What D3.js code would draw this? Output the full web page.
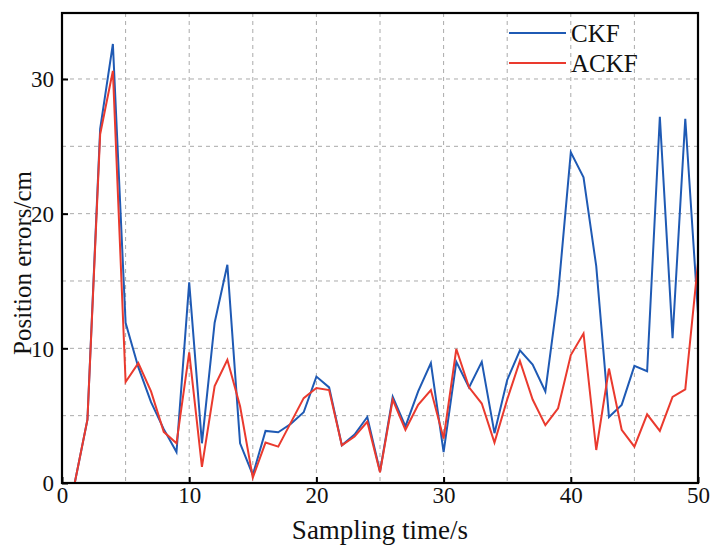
<!DOCTYPE html>
<html>
<head>
<meta charset="utf-8">
<script src="https://cdn.jsdelivr.net/npm/d3@7"></script>
<style>
  body { margin: 0; background: #fff; }
</style>
</head>
<body>
<div class="chart"></div>
<script>
// sampling instants 1..50
var samples = d3.range(1, 51);

// position errors (cm)
var ckf = [0, 4.7, 26.3, 32.6, 11.9, 8.6, 6.0, 4.0, 2.3, 14.9,
           2.95, 11.9, 16.2, 2.95, 0.6, 3.87, 3.77, 4.4, 5.25, 7.9,
           7.1, 2.8, 3.6, 4.9, 0.85, 6.4, 4.2, 6.8, 8.9, 2.3,
           9.0, 7.1, 9.0, 3.7, 7.65, 9.85, 8.8, 6.8, 14.0, 24.55,
           22.7, 16.1, 4.9, 5.8, 8.7, 8.3, 27.2, 10.75, 27.05, 12.6];

var ackf = [0, 4.7, 25.9, 30.6, 7.5, 8.9, 6.8, 3.8, 2.95, 9.7,
            1.2, 7.2, 9.15, 5.7, 0.4, 3.0, 2.7, 4.5, 6.3, 7.05,
            6.9, 2.8, 3.45, 4.55, 0.8, 6.2, 3.95, 5.8, 6.9, 3.3,
            9.95, 7.1, 5.9, 3.0, 6.2, 9.07, 6.2, 4.3, 5.55, 9.5,
            11.1, 2.45, 8.5, 3.95, 2.7, 5.1, 3.87, 6.4, 6.95, 16.35];

var xTicks = [0, 10, 20, 30, 40, 50];
var yTicks = [0, 10, 20, 30];
var xGrid = [5, 10, 15, 20, 25, 30, 35, 40, 45];
var yGrid = [5, 10, 15, 20, 25, 30];

var seriesNames = ["CKF", "ACKF"];
var seriesColors = ["#1f5ab4", "#ea3a2e"];

var serif = "'Times New Roman', 'Liberation Serif', Times, serif";

var svgWidth = 713, svgHeight = 549;
var margin = { top: 13, right: 15, bottom: 66, left: 62 };
var width = svgWidth - margin.left - margin.right;
var height = svgHeight - margin.top - margin.bottom;

var svg = d3.select(".chart").append("svg")
    .attr("width", svgWidth)
    .attr("height", svgHeight)
    .attr("font-family", serif);

var chartGroup = svg.append("g")
    .attr("transform", `translate(${margin.left}, ${margin.top})`);

var xScale = d3.scaleLinear().domain([0, 50]).range([0, width]);
var yScale = d3.scaleLinear().domain([0, 34.9]).range([height, 0]);

// dashed grid
chartGroup.selectAll(".xgrid").data(xGrid).enter().append("line")
    .attr("x1", d => xScale(d)).attr("x2", d => xScale(d))
    .attr("y1", 0).attr("y2", height)
    .attr("stroke", "#aaa").attr("stroke-width", 1).attr("stroke-dasharray", "4,4");
chartGroup.selectAll(".ygrid").data(yGrid).enter().append("line")
    .attr("x1", 0).attr("x2", width)
    .attr("y1", d => yScale(d)).attr("y2", d => yScale(d))
    .attr("stroke", "#aaa").attr("stroke-width", 1).attr("stroke-dasharray", "4,4");

// lines
var series = [ckf, ackf];
var line = d3.line()
    .x((d, i) => xScale(samples[i]))
    .y(d => yScale(d));

series.forEach(function(vals, k) {
    chartGroup.append("path")
        .datum(vals)
        .attr("d", line)
        .attr("fill", "none")
        .attr("stroke", seriesColors[k])
        .attr("stroke-width", 2);
});

// axes with inward ticks
var bottomAxis = d3.axisBottom(xScale).tickValues(xTicks).tickSizeInner(-6).tickSizeOuter(0).tickPadding(4);
var leftAxis = d3.axisLeft(yScale).tickValues(yTicks).tickSizeInner(-6).tickSizeOuter(0).tickPadding(8);

var xAxisG = chartGroup.append("g")
    .attr("transform", `translate(0, ${height})`)
    .call(bottomAxis);
var yAxisG = chartGroup.append("g").call(leftAxis);

[xAxisG, yAxisG].forEach(function(g) {
    g.attr("font-family", serif).attr("font-size", 23);
    g.select(".domain").remove();
    g.selectAll(".tick line").attr("stroke", "#000").attr("stroke-width", 2);
    g.selectAll(".tick text").attr("fill", "#111");
});
yAxisG.selectAll(".tick text").attr("dy", "0.34em");

// frame
chartGroup.append("rect")
    .attr("x", 0).attr("y", 0)
    .attr("width", width).attr("height", height)
    .attr("fill", "none").attr("stroke", "#000").attr("stroke-width", 2.2);

// legend
var legend = chartGroup.append("g")
    .attr("transform", "translate(447, 20)");
seriesNames.forEach(function(name, k) {
    legend.append("line")
        .attr("x1", 0).attr("x2", 57)
        .attr("y1", k * 30).attr("y2", k * 30)
        .attr("stroke", seriesColors[k]).attr("stroke-width", 2);
    legend.append("text")
        .attr("x", 62).attr("y", k * 30)
        .attr("dy", "0.35em")
        .attr("font-size", 25)
        .attr("fill", "#111")
        .text(name);
});

// axis titles
svg.append("text")
    .attr("x", margin.left + width / 2).attr("y", 539)
    .attr("text-anchor", "middle")
    .attr("font-size", 27)
    .attr("fill", "#111")
    .text("Sampling time/s");

svg.append("text")
    .attr("transform", "translate(31, 263) rotate(-90)")
    .attr("text-anchor", "middle")
    .attr("font-size", 25)
    .attr("fill", "#111")
    .text("Position errors/cm");
</script>
</body>
</html>
